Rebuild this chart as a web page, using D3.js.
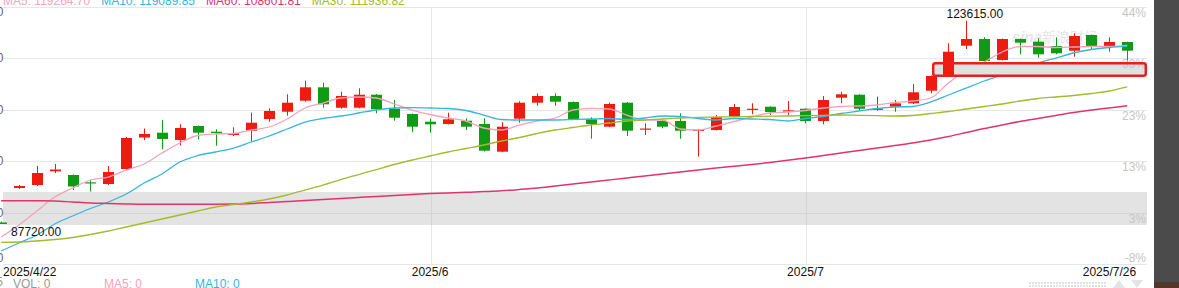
<!DOCTYPE html>
<html>
<head>
<meta charset="utf-8">
<script src="https://cdn.jsdelivr.net/npm/d3@7"></script>
<style>
body { margin: 0; background: #fff; overflow: hidden; }
svg { display: block; font-family: Arial, "Liberation Sans", sans-serif; }
</style>
</head>
<body>
<svg id="chart" width="1179" height="288"></svg>
<script>
// daily candles, 2025/4/22 .. 2025/7/25
var opens = [88037,94120,94648,97064,96411,95125,94825,97469,103023,103869,
	102582,105050,104045,103464,104222,106284,107571,109511,111873,108276,
	108276,110568,108100,107166,105808,105403,105985,105403,100519,106337,
	109158,110339,109281,106231,104927,109158,104521,105932,105932,104257,
	104345,106690,107994,108453,107607,108100,105932,110039,110568,107959,
	108453,109052,111274,113865,119207,120388,116686,120388,119912,119154,
	118326,121093,119154,119859];
var highs = [88214,94648,97998,98351,96500,95530,97998,103111,104609,106108,
	105350,105138,104468,104821,107395,108171,110639,113037,112684,111097,
	111697,110692,109634,107254,106337,107395,106408,106408,105755,109405,
	110815,110815,109369,106584,109158,109281,105526,106108,107289,104521,
	106989,108929,109052,108523,109458,108171,110339,111097,110639,110216,
	109634,112455,113953,119630,123615,120688,120476,120476,120512,120688,
	121393,121181,120688,119912];
var lows = [87720,93943,94472,96764,93767,93503,94648,97293,102582,100943,
	101648,102706,101577,103287,102282,105808,106866,109334,108276,108100,
	108171,107289,105985,104045,103869,105315,104345,100555,100414,105632,
	108629,108629,106108,102811,104821,103287,103464,104645,102811,99638,
	104257,106637,107113,106989,106989,105526,105350,109052,107871,107748,
	107571,108929,110815,113777,118625,116422,116598,117691,117091,117691,
	117268,118449,118149,116104];
var closes = [87773,94472,96764,97381,94384,95001,96940,102935,103640,102758,
	104698,103869,103816,103763,105632,107695,109158,111873,108876,110339,
	110568,107994,106513,104927,105350,106231,104927,100696,104927,109158,
	110339,109334,106231,105403,108929,104222,104609,104927,104222,104398,
	106584,108400,108100,107518,107818,105932,109634,110639,108100,108100,
	109052,110992,113865,118149,120388,116510,120388,119736,117691,117867,
	120917,119154,119859,118326];

var ma5 = [85481,87596,90065,92533,94120,95530,96059,97293,98351,100290,
	102053,103375,103640,103728,104345,104874,106284,108224,109105,109987,
	110163,109987,108929,107871,107078,106461,105932,104698,104345,105226,
	105932,106461,107871,108171,108047,106989,106108,106108,104521,104345,
	105050,105844,106637,107342,107518,107783,108224,108488,108576,108752,
	109193,109458,109987,112631,114923,116333,118096,119066,119066,118890,
	118978,119066,119066,119264.70];
var ma10 = [83013,84423,85833,87773,89183,90505,91651,93062,95001,96588,
	98703,99849,100466,101172,102229,103287,104521,105755,106372,106813,
	107342,107871,108224,108276,108224,108135,107783,106989,106196,106108,
	106108,106108,106196,106284,106372,106196,106461,106813,106725,106372,
	106108,106372,106284,106196,105932,106372,106725,107254,107695,108135,
	108400,108488,109281,110515,111750,112984,114041,115187,116157,117039,
	117920,118537,118890,119089.85];
var ma30 = [84547,84599,84776,85040,85393,85922,86539,87244,87949,88654,
	89359,90065,90770,91211,91651,92180,92885,93767,94648,95618,
	96500,97381,98263,99056,99761,100466,101083,101700,102406,103023,
	103728,104345,104786,105226,105579,105932,106108,106284,106461,106584,
	106637,106673,106725,106778,106813,106866,106937,106989,106937,106884,
	106813,106901,107254,107607,108047,108488,108929,109458,109898,110163,
	110427,110780,111221,111936.82];
var ma60 = [91881,91881,91863,91828,91651,91475,91387,91299,91246,91246,
	91246,91246,91264,91299,91387,91563,91740,91916,92092,92268,
	92445,92621,92797,92974,93133,93238,93362,93485,93626,93855,
	94120,94472,94825,95177,95530,95883,96235,96588,96940,97293,
	97646,97946,98263,98615,99003,99409,99849,100290,100731,101172,
	101612,102053,102582,103199,103904,104609,105226,105844,106372,106901,
	107430,107871,108224,108601.81];

// axis ticks
var priceTicks = [80721, 89783, 98845, 107907, 116969, 126031];
var pctLabels = ["-8%", "3%", "13%", "23%", "33%", "44%"];
var xTickIdx = [0, 24, 45, 63];
var xTickText = ["2025/4/22", "2025/6", "2025/7", "2025/7/26"];
var monthIdx = [24, 45];

// highlighted price zones
var greyZone = [87600, 93410];
var markZone = [113690, 116333];

var maNames = ["MA5", "MA10", "MA60", "MA30"];
var maSeries = [ma5, ma10, ma60, ma30];
var maColors = ["#f4a3b9", "#35b6dc", "#e0346a", "#a3bb2c"];
var volNames = ["VOL: 0", "MA5: 0", "MA10: 0"];

var RED = "#ee1c10", GREEN = "#0f9b16";

function drawChart() {
	var svg = d3.select("#chart");
	var W = 1179, H = 288;
	var pL = 3, pR = 1147, pT = 7, pB = 264;
	var n = opens.length;

	var x = d3.scaleBand().domain(d3.range(n))
		.range([-7.84, 1136.16]).paddingInner(0.38).paddingOuter(0.19);
	var y = d3.scaleLinear().domain([priceTicks[0], priceTicks[5]]).range([pB, pT]);
	function cx(i) { return x(i) + x.bandwidth() / 2; }
	function up(i) { return closes[i] >= opens[i]; }

	// --- grid --- \\
	svg.append("g").selectAll("line").data(priceTicks).join("line")
		.attr("x1", pL).attr("x2", pR)
		.attr("y1", function(d) { return Math.round(y(d)) + 0.5; })
		.attr("y2", function(d) { return Math.round(y(d)) + 0.5; })
		.attr("stroke", "#e6e6e6");
	svg.append("g").selectAll("line").data(monthIdx).join("line")
		.attr("x1", function(d) { return Math.round(cx(d)) + 1.5; })
		.attr("x2", function(d) { return Math.round(cx(d)) + 1.5; })
		.attr("y1", pT).attr("y2", pB)
		.attr("stroke", "#e6e6e6");

	svg.append("rect")
		.attr("x", pL).attr("width", pR - pL)
		.attr("y", y(greyZone[1])).attr("height", y(greyZone[0]) - y(greyZone[1]))
		.attr("fill", "rgba(185,185,185,0.4)");

	// watermark
	var wm = svg.append("g").attr("fill", "#e6e6e6");
	wm.append("text").attr("x", 1012).attr("y", 42).attr("font-size", 15)
		.attr("font-style", "italic").attr("font-weight", "bold").text("sina");
	wm.append("text").attr("x", 1042).attr("y", 42).attr("font-size", 14)
		.attr("font-family", "'Noto Sans CJK SC', sans-serif").text("新浪财经");

	// --- candles --- \\
	var gC = svg.append("g").attr("id", "candles");
	var cnd = gC.selectAll("g").data(d3.range(n)).join("g")
		.attr("fill", function(i) { return up(i) ? RED : GREEN; })
		.attr("stroke", function(i) { return up(i) ? RED : GREEN; });
	cnd.append("line")
		.attr("x1", function(i) { return Math.round(cx(i)) + 0.5; })
		.attr("x2", function(i) { return Math.round(cx(i)) + 0.5; })
		.attr("y1", function(i) { return y(highs[i]); })
		.attr("y2", function(i) { return y(lows[i]); });
	cnd.append("rect").attr("stroke", "none")
		.attr("x", function(i) { return Math.round(cx(i)) - 5; })
		.attr("width", 11)
		.attr("y", function(i) { return y(Math.max(opens[i], closes[i])); })
		.attr("height", function(i) { return Math.max(1.2, Math.abs(y(opens[i]) - y(closes[i]))); });

	// --- moving averages --- \\
	var line = d3.line().x(function(d, i) { return cx(i); }).y(function(d) { return y(d); })
		.curve(d3.curveMonotoneX);
	svg.append("g").selectAll("path").data(maSeries).join("path")
		.attr("d", line).attr("fill", "none")
		.attr("stroke", function(d, i) { return maColors[i]; })
		.attr("stroke-width", function(d, i) { return i == 2 ? 1.5 : 1.3; });

	// marked zone (covers lines, candles show through)
	var mY0 = y(markZone[1]), mY1 = y(markZone[0]);
	svg.append("rect").attr("x", 932).attr("y", mY0).attr("width", pR - 932).attr("height", mY1 - mY0)
		.attr("fill", "#e1e1e1");
	svg.append("clipPath").attr("id", "markClip").append("rect")
		.attr("x", 932).attr("y", mY0).attr("width", pR - 932).attr("height", mY1 - mY0);
	svg.append("use").attr("href", "#candles").attr("clip-path", "url(#markClip)");

	// --- axes text --- \\
	svg.append("g").selectAll("text").data(priceTicks).join("text")
		.attr("x", 3.5).attr("text-anchor", "end").attr("font-size", 12).attr("fill", "#666")
		.attr("dominant-baseline", "central")
		.attr("y", function(d) { return Math.min(Math.max(y(d), 12), 258); })
		.text(function(d) { return d3.format(".2f")(d); });

	svg.append("g").selectAll("text").data(priceTicks).join("text")
		.attr("x", pR - 1).attr("text-anchor", "end").attr("font-size", 12).attr("fill", "#c6c6c6")
		.attr("dominant-baseline", "central")
		.attr("y", function(d, i) { return i == 0 ? y(d) - 6 : y(d) + 6; })
		.text(function(d, i) { return pctLabels[i]; });

	svg.append("g").selectAll("text").data(xTickIdx).join("text")
		.attr("font-size", 12).attr("fill", "#111").attr("y", 276)
		.attr("x", function(d, i) {
			if (i == 0) return pL;
			if (i == xTickIdx.length - 1) return x.range()[1];
			return cx(d);
		})
		.attr("text-anchor", function(d, i) {
			return i == 0 ? "start" : (i == xTickIdx.length - 1 ? "end" : "middle");
		})
		.text(function(d, i) { return xTickText[i]; });

	// high / low marks
	var iH = d3.maxIndex(highs), iL = d3.minIndex(lows);
	svg.append("text").attr("x", cx(iH) + 8.5).attr("y", y(highs[iH]) - 3)
		.attr("text-anchor", "middle").attr("font-size", 12).attr("fill", "#111")
		.text(d3.format(".2f")(highs[iH]));
	svg.append("text").attr("x", cx(iL) + 10).attr("y", y(lows[iL]) + 12)
		.attr("font-size", 12).attr("fill", "#111")
		.text(d3.format(".2f")(lows[iL]));

	// red outline of marked zone
	svg.append("rect").attr("x", 933.2).attr("y", mY0 + 1.2)
		.attr("width", pR - 933.2 - 1.2).attr("height", mY1 - mY0 - 2.4)
		.attr("rx", 2.5).attr("fill", "none").attr("stroke", "#ea1f1a").attr("stroke-width", 2.5);

	// --- legend (top, cut) --- \\
	var lx = 3;
	maNames.forEach(function(nm, i) {
		var s = maSeries[i];
		var t = svg.append("text").attr("x", lx).attr("y", 4.5).attr("font-size", 12)
			.attr("fill", maColors[i]).text(nm + ": " + d3.format(".2f")(s[s.length - 1]));
		lx += t.node().getComputedTextLength() + 11;
	});

	// volume legend (bottom, cut)
	svg.append("text").attr("x", 3).attr("y", 286).attr("text-anchor", "end")
		.attr("font-size", 12).attr("fill", "#999").text("5");
	var volX = [13, 104, 195], volC = ["#999", "#f4a3b9", "#35b6dc"];
	volNames.forEach(function(t, i) {
		svg.append("text").attr("x", volX[i]).attr("y", 288).attr("font-size", 12)
			.attr("fill", volC[i]).text(t);
	});

	// scroller bits at bottom right
	var pat = svg.append("defs").append("pattern").attr("id", "dots")
		.attr("width", 3).attr("height", 3).attr("patternUnits", "userSpaceOnUse");
	pat.append("rect").attr("width", 2).attr("height", 2).attr("fill", "#e2e2e2");
	svg.append("rect").attr("x", 1028).attr("y", 281).attr("width", 79).attr("height", 7).attr("fill", "url(#dots)");
	svg.append("path").attr("d", "M1113,288L1119,280L1125,288Z").attr("fill", "#e4e4e4");
	svg.append("path").attr("d", "M1131,280L1143,280L1137,288Z").attr("fill", "#e4e4e4");

	// dark side panel
	svg.append("rect").attr("x", 1154).attr("y", 0).attr("width", W - 1154).attr("height", H).attr("fill", "#4b4b4b");
	svg.append("rect").attr("x", 1154).attr("y", 282).attr("width", W - 1154).attr("height", 6).attr("fill", "#54362a");
}

drawChart();
</script>
</body>
</html>
